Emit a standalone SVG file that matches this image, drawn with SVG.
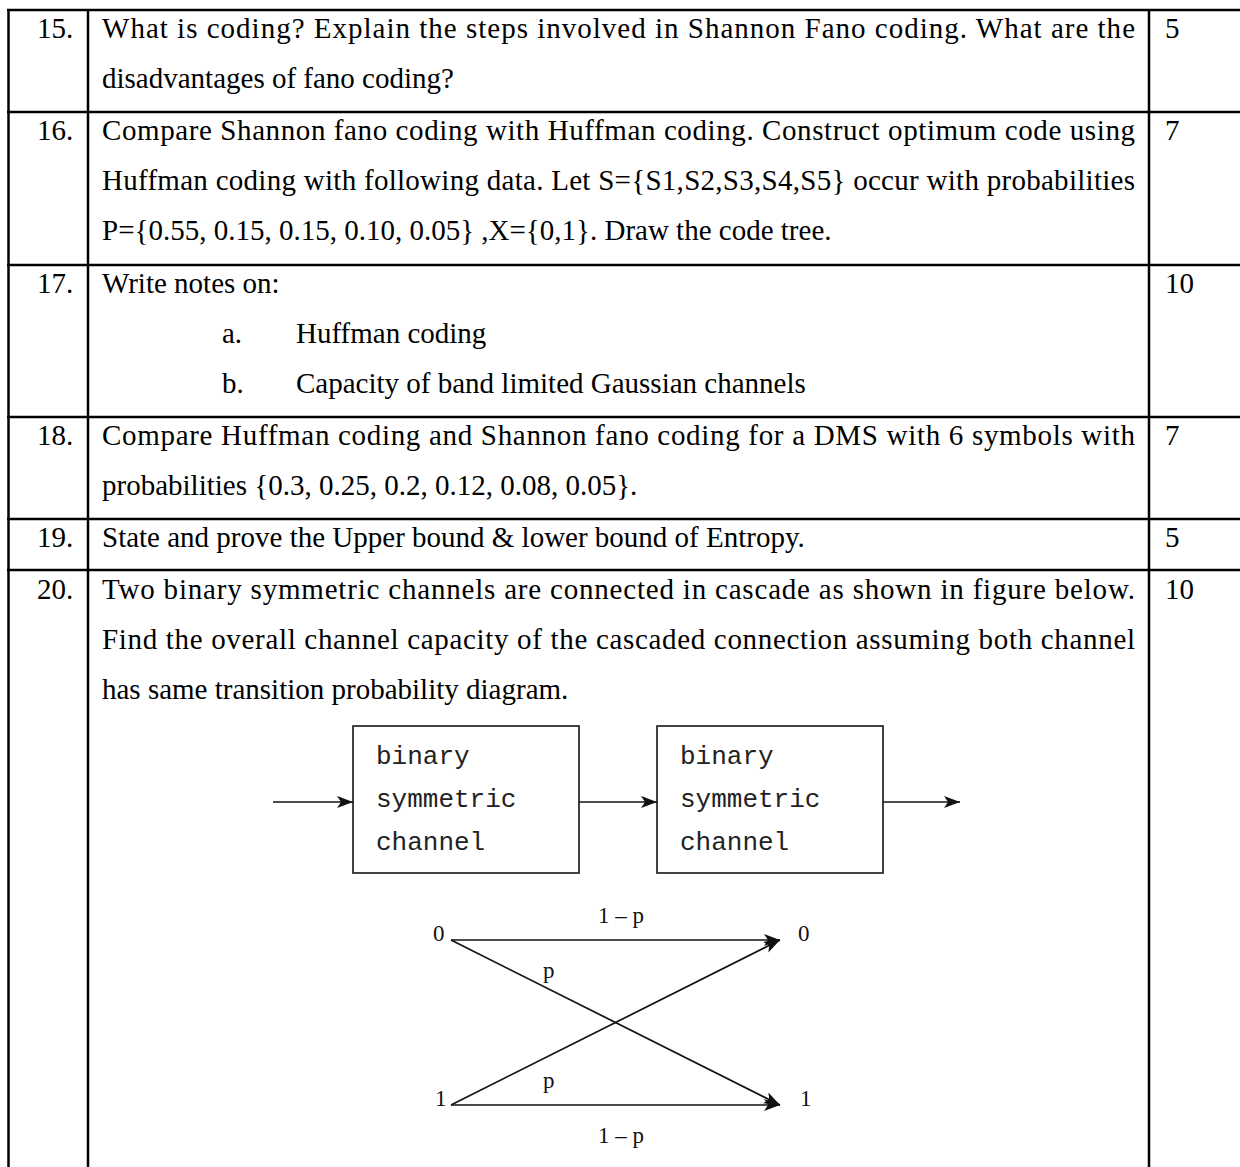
<svg xmlns="http://www.w3.org/2000/svg" width="1240" height="1167" viewBox="0 0 1240 1167">
<style>
.t{font-family:"Liberation Serif","Times New Roman",serif;font-size:29px;fill:#000}
.mono{font-family:"Liberation Mono","Courier New",monospace;font-size:26px;fill:#222}
.lbl{font-family:"Liberation Serif","Times New Roman",serif;font-size:23px;fill:#111}
.grid line{stroke:#000;stroke-width:2.5}
.box{fill:none;stroke:#222;stroke-width:1.7}
.conn{stroke:#111;stroke-width:1.7;fill:none}
</style>
<defs>
<marker id="ah" markerUnits="userSpaceOnUse" markerWidth="18" markerHeight="14" refX="16" refY="6" orient="auto">
<path d="M0,0 L16,6 L0,12 L4,6 z" fill="#111"/>
</marker>
</defs>
<rect width="1240" height="1167" fill="#fff"/>
<g id="table-grid" class="grid">
<line x1="7" y1="10" x2="1240" y2="10"/>
<line x1="7" y1="112" x2="1240" y2="112"/>
<line x1="7" y1="265" x2="1240" y2="265"/>
<line x1="7" y1="417" x2="1240" y2="417"/>
<line x1="7" y1="519" x2="1240" y2="519"/>
<line x1="7" y1="570" x2="1240" y2="570"/>
<line x1="8.5" y1="9" x2="8.5" y2="1167"/>
<line x1="88" y1="9" x2="88" y2="1167"/>
<line x1="1149" y1="9" x2="1149" y2="1167"/>
</g>
<g id="row-15">
<text class="t" x="37" y="38">15.</text>
<text class="t" x="102" y="38" textLength="1033" lengthAdjust="spacing">What is coding? Explain the steps involved in Shannon Fano coding. What are the</text>
<text class="t" x="102" y="88">disadvantages of fano coding?</text>
<text class="t" x="1165" y="38">5</text>
</g>
<g id="row-16">
<text class="t" x="37" y="140">16.</text>
<text class="t" x="102" y="140" textLength="1033" lengthAdjust="spacing">Compare Shannon fano coding with Huffman coding. Construct optimum code using</text>
<text class="t" x="102" y="190" textLength="1033" lengthAdjust="spacing">Huffman coding with following data. Let S={S1,S2,S3,S4,S5} occur with probabilities</text>
<text class="t" x="102" y="240">P={0.55, 0.15, 0.15, 0.10, 0.05} ,X={0,1}. Draw the code tree.</text>
<text class="t" x="1165" y="140">7</text>
</g>
<g id="row-17">
<text class="t" x="37" y="293">17.</text>
<text class="t" x="102" y="293">Write notes on:</text>
<text class="t" x="222" y="343">a.</text>
<text class="t" x="296" y="343">Huffman coding</text>
<text class="t" x="222" y="393">b.</text>
<text class="t" x="296" y="393">Capacity of band limited Gaussian channels</text>
<text class="t" x="1165" y="293">10</text>
</g>
<g id="row-18">
<text class="t" x="37" y="445">18.</text>
<text class="t" x="102" y="445" textLength="1033" lengthAdjust="spacing">Compare Huffman coding and Shannon fano coding for a DMS with 6 symbols with</text>
<text class="t" x="102" y="495">probabilities {0.3, 0.25, 0.2, 0.12, 0.08, 0.05}.</text>
<text class="t" x="1165" y="445">7</text>
</g>
<g id="row-19">
<text class="t" x="37" y="547">19.</text>
<text class="t" x="102" y="547">State and prove the Upper bound &amp; lower bound of Entropy.</text>
<text class="t" x="1165" y="547">5</text>
</g>
<g id="row-20">
<text class="t" x="37" y="599">20.</text>
<text class="t" x="102" y="599" textLength="1033" lengthAdjust="spacing">Two binary symmetric channels are connected in cascade as shown in figure below.</text>
<text class="t" x="102" y="649" textLength="1033" lengthAdjust="spacing">Find the overall channel capacity of the cascaded connection assuming both channel</text>
<text class="t" x="102" y="699">has same transition probability diagram.</text>
<text class="t" x="1165" y="599">10</text>
</g>
<g id="bsc-box-1">
<rect class="box" x="353" y="726" width="226" height="147"/>
<text class="mono" x="376" y="764">binary</text>
<text class="mono" x="376" y="807">symmetric</text>
<text class="mono" x="376" y="850">channel</text>
</g>
<g id="bsc-box-2">
<rect class="box" x="657" y="726" width="226" height="147"/>
<text class="mono" x="680" y="764">binary</text>
<text class="mono" x="680" y="807">symmetric</text>
<text class="mono" x="680" y="850">channel</text>
</g>
<g id="node-in0"><text class="lbl" x="433" y="941">0</text></g>
<g id="node-in1"><text class="lbl" x="435" y="1106">1</text></g>
<g id="node-out0"><text class="lbl" x="798" y="941">0</text></g>
<g id="node-out1"><text class="lbl" x="800" y="1106">1</text></g>
<g id="connectors">
<line class="conn" x1="273" y1="802" x2="353" y2="802" marker-end="url(#ah)"/>
<line class="conn" x1="579" y1="802" x2="657" y2="802" marker-end="url(#ah)"/>
<line class="conn" x1="883" y1="802" x2="960" y2="802" marker-end="url(#ah)"/>
<line class="conn" x1="451" y1="940" x2="780" y2="940" marker-end="url(#ah)"/>
<line class="conn" x1="451" y1="940" x2="780" y2="1105" marker-end="url(#ah)"/>
<line class="conn" x1="451" y1="1105" x2="780" y2="940" marker-end="url(#ah)"/>
<line class="conn" x1="451" y1="1105" x2="780" y2="1105" marker-end="url(#ah)"/>
<text class="lbl" x="598" y="923">1 – p</text>
<text class="lbl" x="543" y="978">p</text>
<text class="lbl" x="543" y="1088">p</text>
<text class="lbl" x="598" y="1143">1 – p</text>
</g>
</svg>
